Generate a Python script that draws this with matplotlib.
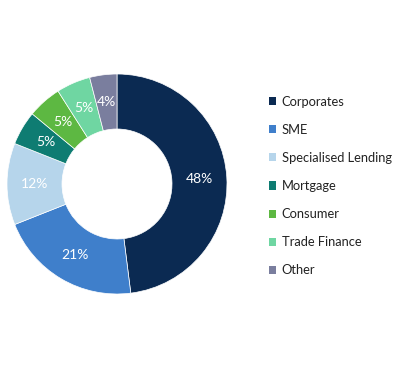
import matplotlib
matplotlib.use("Agg")
import matplotlib.pyplot as plt
from matplotlib.patches import Patch

plt.rcParams['font.family'] = ['Lato', 'DejaVu Sans']

# data
categories = ["Corporates", "SME", "Specialised Lending", "Mortgage",
              "Consumer", "Trade Finance", "Other"]
shares = [48, 21, 12, 5, 5, 5, 4]
colors = ["#0B2A52", "#3F7FCB", "#B6D5EB", "#0E7C72",
          "#5DB842", "#6FD6A2", "#7A7E9E"]

W, H = 400, 369
fig = plt.figure(figsize=(W / 100, H / 100), dpi=100)
fig.patch.set_facecolor("white")

# donut axes: center (117, 184) px, outer radius 110 px
cx, cy, r = 117, 184, 110
ax = fig.add_axes([(cx - r) / W, (H - cy - r) / H, 2 * r / W, 2 * r / H])

wedges, texts, autotexts = ax.pie(
    shares, colors=colors, startangle=90, counterclock=False, radius=1,
    autopct=lambda p: f"{p:.0f}%", pctdistance=0.75,
    wedgeprops=dict(width=0.5, edgecolor="white", linewidth=0.5),
    textprops=dict(color="white", fontsize=10))
ax.set_xlim(-1, 1)
ax.set_ylim(-1, 1)
ax.set_aspect("equal")
ax.axis("off")

# legend
handles = [Patch(facecolor=c, edgecolor="none") for c in colors]
fig.legend(handles, categories, loc="upper left",
           bbox_to_anchor=(257 / W, 1 - 84 / H), frameon=False,
           fontsize=9.3, handlelength=0.6, handleheight=0.6,
           handletextpad=0.4, labelspacing=1.25, labelcolor="#222222")

fig.savefig("out.png", dpi=100)
